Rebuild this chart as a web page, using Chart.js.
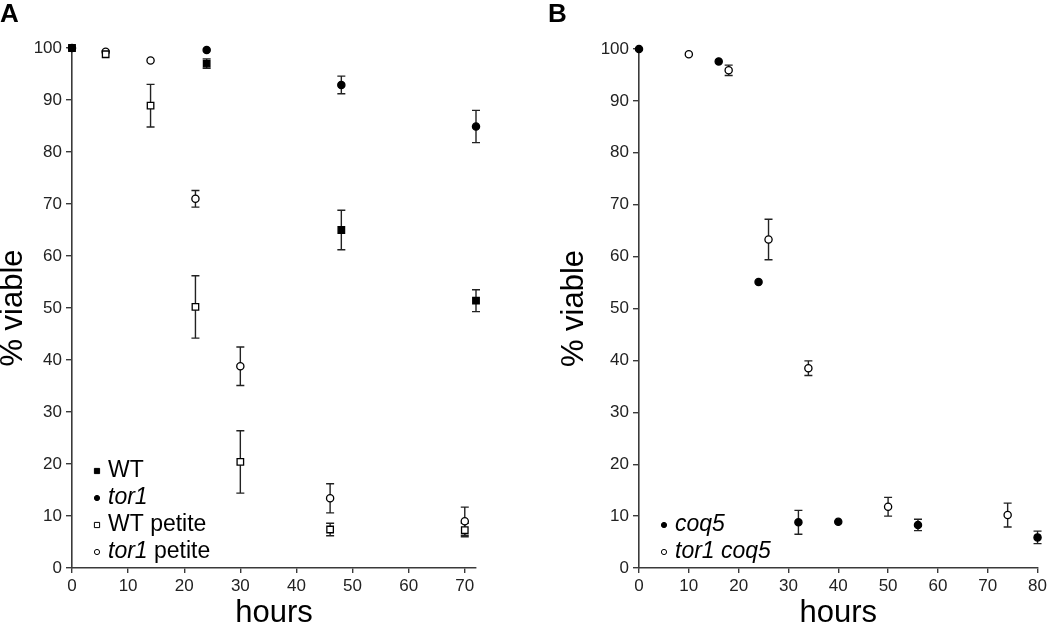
<!DOCTYPE html>
<html>
<head>
<meta charset="utf-8">
<script src="https://cdn.jsdelivr.net/npm/chart.js@4.4.1/dist/chart.umd.min.js"></script>
<style>
  body { margin: 0; background: #fff; }
  #wrap { position: relative; width: 1050px; height: 626px; overflow: hidden; font-family: 'Liberation Sans', Arial, sans-serif; }
  #boxA { position: absolute; left: 0; top: 0; }
  #boxB { position: absolute; left: 540px; top: 0; }
  .tag { position: absolute; top: 0px; font-size: 26px; font-weight: bold; line-height: 1; color: #000; }
</style>
</head>
<body>
<div id="wrap">
  <canvas id="boxA" width="540" height="626"></canvas>
  <canvas id="boxB" width="510" height="626"></canvas>
  <div class="tag" style="left:0px">A</div>
  <div class="tag" style="left:548px">B</div>
</div>
<script>
// tick labels
const yTicks = [0, 10, 20, 30, 40, 50, 60, 70, 80, 90, 100];
const xTicksA = [0, 10, 20, 30, 40, 50, 60, 70];
const xTicksB = [0, 10, 20, 30, 40, 50, 60, 70, 80];

// Panel A : hours, % viable, error (+/-)
const hoursWT = [0, 24, 48, 72];
const viableWT = [100, 97, 65, 51.4];
const errWT = [0, 0.9, 3.8, 2.1];

const hoursTor1 = [0, 24, 48, 72];
const viableTor1 = [100, 99.6, 92.9, 84.9];
const errTor1 = [0, 0, 1.7, 3.1];

const hoursWTpetite = [6, 14, 22, 30, 46, 70];
const viableWTpetite = [98.8, 88.9, 50.2, 20.4, 7.4, 7.3];
const errWTpetite = [0, 4.1, 6.0, 6.0, 1.2, 1.3];

const hoursTor1petite = [6, 14, 22, 30, 46, 70];
const viableTor1petite = [99.3, 97.6, 71.0, 38.8, 13.4, 9.0];
const errTor1petite = [0, 0, 1.6, 3.7, 2.8, 2.7];

// Panel B
const hoursCoq5 = [0, 16, 24, 32, 40, 56, 80];
const viableCoq5 = [100, 97.6, 55.1, 8.8, 8.9, 8.3, 5.9];
const errCoq5 = [0, 0, 0, 2.3, 0, 1.1, 1.2];

const hoursTor1coq5 = [10, 18, 26, 34, 50, 74];
const viableTor1coq5 = [99.0, 95.9, 63.3, 38.5, 11.8, 10.2];
const errTor1coq5 = [0, 1.0, 3.9, 1.4, 1.8, 2.3];

// legend labels, [text, italic]
const legendA = [
  [['WT', false]],
  [['tor1', true]],
  [['WT petite', false]],
  [['tor1', true], [' petite', false]]
];
const legendB = [
  [['coq5', true]],
  [['tor1 coq5', true]]
];

const FONT = "'Liberation Sans', Arial, sans-serif";
const INK = '#222';
const AXIS = '#3a3a3a';

function pts(xs, ys) {
  return xs.map((x, i) => ({ x: x, y: ys[i] }));
}

function series(label, xs, ys, err, shape, filled) {
  return {
    label: label,
    data: pts(xs, ys),
    err: err,
    pointStyle: shape,
    pointRadius: shape === 'rect' ? 4.6 : 3.6,
    pointHoverRadius: shape === 'rect' ? 4.6 : 3.6,
    borderWidth: 1.3,
    borderColor: '#000',
    backgroundColor: filled ? '#000' : '#fff',
    showLine: false,
    clip: false
  };
}

// vertical error bars with caps, drawn under the markers
const errorBars = {
  id: 'errorBars',
  beforeDatasetsDraw(chart) {
    const ctx = chart.ctx;
    const ys = chart.scales.y;
    ctx.save();
    ctx.strokeStyle = INK;
    ctx.lineWidth = 1.4;
    chart.data.datasets.forEach((ds, i) => {
      const meta = chart.getDatasetMeta(i);
      meta.data.forEach((pt, j) => {
        const e = ds.err[j];
        if (!e) return;
        const v = ds.data[j].y;
        const top = ys.getPixelForValue(v + e);
        const bot = ys.getPixelForValue(v - e);
        ctx.beginPath();
        ctx.moveTo(pt.x, top);
        ctx.lineTo(pt.x, bot);
        ctx.moveTo(pt.x - 4, top);
        ctx.lineTo(pt.x + 4, top);
        ctx.moveTo(pt.x - 4, bot);
        ctx.lineTo(pt.x + 4, bot);
        ctx.stroke();
      });
    });
    ctx.restore();
  }
};

// legend inside the plot, bottom-left, with italic gene names
const insideLegend = {
  id: 'insideLegend',
  afterDraw(chart, args, opts) {
    const ctx = chart.ctx;
    const area = chart.chartArea;
    const rows = opts.rows;
    const n = rows.length;
    ctx.save();
    ctx.textBaseline = 'middle';
    rows.forEach((parts, i) => {
      const ds = chart.data.datasets[i];
      const mx = area.left + 25;
      const my = area.bottom - 16 - (n - 1 - i) * 27;
      ctx.lineWidth = 1;
      ctx.strokeStyle = '#000';
      ctx.fillStyle = ds.backgroundColor;
      ctx.beginPath();
      if (ds.pointStyle === 'rect') {
        ctx.rect(mx - 2.6, my - 2.6, 5.2, 5.2);
      } else {
        ctx.arc(mx, my, 2.6, 0, Math.PI * 2);
      }
      ctx.fill();
      ctx.stroke();
      let tx = mx + 11;
      ctx.fillStyle = '#000';
      parts.forEach(p => {
        ctx.font = (p[1] ? 'italic ' : '') + '23px ' + FONT;
        ctx.fillText(p[0], tx, my);
        tx += ctx.measureText(p[0]).width;
      });
    });
    ctx.restore();
  }
};

function makeChart(id, datasets, xMax, xTicks, yWidth, pad, yTitlePad, rows) {
  return new Chart(document.getElementById(id), {
    type: 'scatter',
    data: { datasets: datasets },
    plugins: [errorBars, insideLegend],
    options: {
      responsive: false,
      animation: false,
      devicePixelRatio: 1,
      layout: { padding: pad },
      plugins: {
        legend: { display: false },
        tooltip: { enabled: false },
        insideLegend: { rows: rows }
      },
      scales: {
        x: {
          type: 'linear',
          min: 0,
          max: xMax,
          afterBuildTicks: s => { s.ticks = xTicks.map(v => ({ value: v })); },
          afterFit: s => { s.height = 58; },
          grid: { display: true, drawOnChartArea: false, drawTicks: true, tickLength: 5, color: AXIS, lineWidth: 1.4 },
          border: { display: true, color: AXIS, width: 1.6 },
          ticks: { color: INK, font: { family: FONT, size: 17 }, padding: 3, maxRotation: 0, autoSkip: false },
          title: { display: true, text: 'hours', color: '#000', font: { family: FONT, size: 31, lineHeight: 0.8 }, padding: { top: 0, bottom: 0 } }
        },
        y: {
          type: 'linear',
          min: 0,
          max: 100,
          afterBuildTicks: s => { s.ticks = yTicks.map(v => ({ value: v })); },
          afterFit: s => { s.width = yWidth; },
          grid: { display: true, drawOnChartArea: false, drawTicks: true, tickLength: 6, color: AXIS, lineWidth: 1.4 },
          border: { display: true, color: AXIS, width: 1.6 },
          ticks: { color: INK, font: { family: FONT, size: 17 }, padding: 4, autoSkip: false },
          title: { display: true, text: '% viable', color: '#000', font: { family: FONT, size: 31, lineHeight: 0.8 }, padding: { top: yTitlePad, bottom: 0 } }
        }
      }
    }
  });
}

makeChart('boxA', [
  series('WT', hoursWT, viableWT, errWT, 'rect', true),
  series('tor1', hoursTor1, viableTor1, errTor1, 'circle', true),
  series('WT petite', hoursWTpetite, viableWTpetite, errWTpetite, 'rect', false),
  series('tor1 petite', hoursTor1petite, viableTor1petite, errTor1petite, 'circle', false)
], 72, xTicksA, 72, { left: 0, right: 64, top: 48, bottom: 0 }, 0.6, legendA);

makeChart('boxB', [
  series('coq5', hoursCoq5, viableCoq5, errCoq5, 'circle', true),
  series('tor1 coq5', hoursTor1coq5, viableTor1coq5, errTor1coq5, 'circle', false)
], 80, xTicksB, 99, { left: 0, right: 7, top: 49, bottom: 0 }, 21.6, legendB);
</script>
</body>
</html>
